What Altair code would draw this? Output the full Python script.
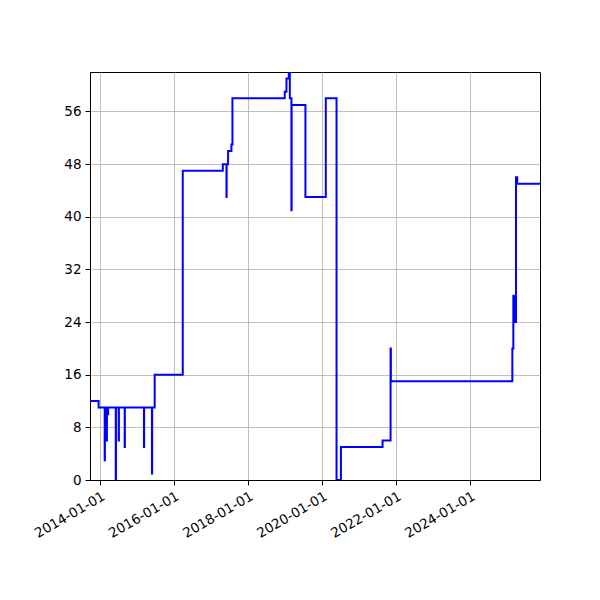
import altair as alt
import pandas as pd

dates = [
    "2013-09-24", "2013-12-18", "2014-02-16", "2014-02-18", "2014-03-08", "2014-03-10",
    "2014-03-20", "2014-03-22", "2014-06-05", "2014-06-07", "2014-07-04", "2014-07-06",
    "2014-09-01", "2014-09-03", "2015-03-10", "2015-03-12", "2015-05-28", "2015-05-30",
    "2015-06-24", "2016-03-27", "2017-04-26", "2017-06-01", "2017-06-03", "2017-06-17",
    "2017-07-20", "2017-07-30", "2018-12-28", "2019-01-14", "2019-02-06", "2019-02-16",
    "2019-03-04", "2019-03-06", "2019-07-20", "2020-02-06", "2020-05-22", "2020-07-04",
    "2021-08-19", "2021-11-06", "2021-11-09", "2025-02-19", "2025-03-01", "2025-03-05",
    "2025-03-09", "2025-03-13", "2025-03-27", "2025-04-08", "2025-11-19",
]
values = [
    12, 11, 3, 11, 6, 11,
    10, 11, 0, 11, 6, 11,
    5, 11, 5, 11, 1, 11,
    16, 47, 48, 43, 48, 50,
    51, 58, 59, 61, 62, 58,
    41, 57, 43, 58, 0, 5,
    6, 20, 15, 20, 28, 24,
    28, 24, 46, 45, 45,
]
x_tick_years = [2014, 2016, 2018, 2020, 2022, 2024]
y_ticks = [0, 8, 16, 24, 32, 40, 48, 56]

df = pd.DataFrame({"date": dates, "value": values})

chart = alt.Chart(df).mark_line(
    interpolate="step-after", color="#0000ff", strokeWidth=2, clip=True
).encode(
    x=alt.X(
        "date:T",
        title=None,
        scale=alt.Scale(
            type="utc",
            domain=[alt.DateTime(year=2013, month=9, date=24, utc=True),
                    alt.DateTime(year=2025, month=11, date=19, utc=True)],
            nice=False,
        ),
        axis=alt.Axis(
            values=[alt.DateTime(year=y, month=1, date=1, utc=True) for y in x_tick_years],
            format="%Y-%m-%d",
            labelAngle=-30,
            labelAlign="right",
            labelBaseline="top",
            labelOverlap=False,
        ),
    ),
    y=alt.Y(
        "value:Q",
        title=None,
        scale=alt.Scale(domain=[0, 62], nice=False, zero=True),
        axis=alt.Axis(values=y_ticks, labelOverlap=False),
    ),
).properties(
    width=450,
    height=408,
    autosize=alt.AutoSizeParams(type="none"),
    padding={"left": 82, "top": 64, "right": 52, "bottom": 112},
).configure_view(
    stroke="black", strokeWidth=1
).configure_axis(
    grid=True,
    gridColor="#b0b0b0",
    gridWidth=0.8,
    domainColor="black",
    domainWidth=1,
    tickColor="black",
    tickSize=5,
    tickWidth=1,
    labelColor="black",
    labelFont="DejaVu Sans",
    labelFontSize=13.5,
    labelPadding=4,
)

chart.save("out.html", embed_options={"renderer": "svg", "actions": False})
